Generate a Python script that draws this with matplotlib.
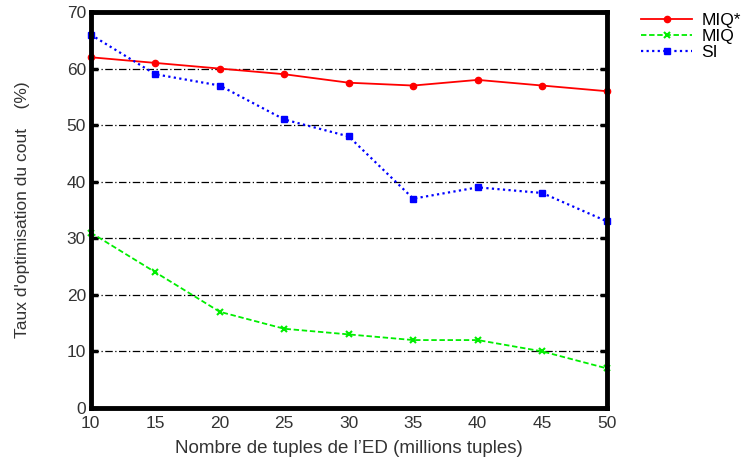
import matplotlib
matplotlib.use('Agg')
import matplotlib.pyplot as plt

# values
tuples = [10, 15, 20, 25, 30, 35, 40, 45, 50]
miq_star = [62, 61, 60, 59, 57.5, 57, 58, 57, 56]
miq = [31, 24, 17, 14, 13, 12, 12, 10, 7]
si = [66, 59, 57, 51, 48, 37, 39, 38, 33]
y_ticks = [0, 10, 20, 30, 40, 50, 60, 70]

plt.rcParams['font.family'] = ['Liberation Sans', 'DejaVu Sans']

fig = plt.figure(figsize=(7.5, 4.62), dpi=100)
ax = fig.add_axes([0.121, 0.117, 0.688, 0.857])

# horizontal dash-dot grid
for yv in y_ticks[1:-1]:
    ax.axhline(yv, color='black', lw=0.9, ls=(0, (6, 2, 1, 2)), zorder=1)

ax.plot(tuples, miq_star, color='#ff0000', lw=1.3, ls='-', marker='o',
        ms=4.5, label='MIQ*', zorder=3, clip_on=False)
ax.plot(tuples, miq, color='#00ee00', lw=1.3, ls=(0, (3, 1.5)), marker='x',
        ms=5, mew=1.5, label='MIQ', zorder=3, clip_on=False)
ax.plot(tuples, si, color='#0000ff', lw=1.6, ls=(0, (1, 1.5)), marker='s',
        ms=5, label='SI', zorder=3, clip_on=False)

ax.set_xlim(10, 50)
ax.set_ylim(0, 70)
ax.set_xticks(tuples)
ax.set_yticks(y_ticks)
ax.tick_params(axis='y', direction='in', length=5, width=2.5, left=True,
               right=True, labelsize=12.5, colors='black', labelcolor='#333333')
ax.tick_params(axis='x', length=0, labelsize=12.5, labelcolor='#333333', pad=6)
for s in ax.spines.values():
    s.set_linewidth(3.5)
    s.set_zorder(4)

ax.set_xlabel("Nombre de tuples de l\u2019ED (millions tuples)", fontsize=13.5,
              color='#333333', labelpad=6)
ax.set_ylabel("Taux d'optimisation du cout    (%)", fontsize=12.5,
              color='#333333', labelpad=26)

fig.legend(loc='upper left', bbox_to_anchor=(0.846, 0.988), frameon=False,
           fontsize=12.5, handlelength=2.9, handletextpad=0.55,
           labelspacing=0.05, borderaxespad=0)

fig.savefig('out.png', dpi=100)
